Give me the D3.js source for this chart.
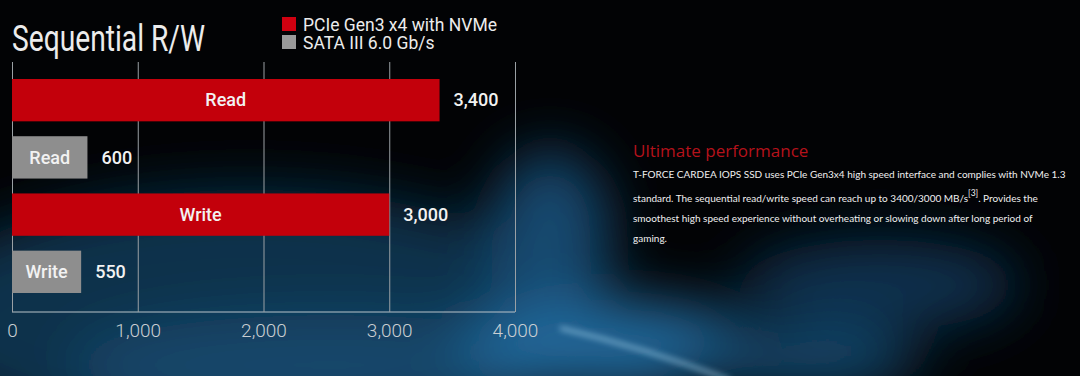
<!DOCTYPE html>
<html>
<head>
    <meta charset="utf-8">
    <title>Sequential R/W</title>
    <script src="https://d3js.org/d3.v7.min.js"></script>
    <style>
        body { margin: 0; background: #000; }
        svg { display: block; }
    </style>
</head>
<body>
<script>
    // chart data
    let barLabels = ["Read", "Read", "Write", "Write"];
    let barValues = [3400, 600, 3000, 550];
    let barSeries = ["nvme", "sata", "nvme", "sata"];
    let seriesNames = ["PCIe Gen3 x4 with NVMe", "SATA III 6.0 Gb/s"];
    let xTicks = [0, 1000, 2000, 3000, 4000];
    let paragraph = [
        "T-FORCE CARDEA IOPS SSD uses PCIe Gen3x4 high speed interface and complies with NVMe 1.3",
        "standard. The sequential read/write speed can reach up to 3400/3000 MB/s",
        "smoothest high speed experience without overheating or slowing down after long period of",
        "gaming."
    ];

    let W = 1080, H = 376;
    let colors = {nvme: "#c3000b", sata: "#8e8e8e"};

    let svg = d3.select("body").append("svg").attr("width", W).attr("height", H);
    let defs = svg.append("defs");

    // background glow
    let blur = defs.append("filter").attr("id", "blur").attr("x", "-50%").attr("y", "-50%")
        .attr("width", "200%").attr("height", "200%");
    blur.append("feGaussianBlur").attr("stdDeviation", 28);
    let blur2 = defs.append("filter").attr("id", "blur2").attr("x", "-50%").attr("y", "-50%")
        .attr("width", "200%").attr("height", "200%");
    blur2.append("feGaussianBlur").attr("stdDeviation", 3);

    svg.append("rect").attr("width", W).attr("height", H).attr("fill", "#020305");
    let glow = svg.append("g").attr("filter", "url(#blur)");
    glow.append("ellipse").attr("cx", 250).attr("cy", 320).attr("rx", 340).attr("ry", 130).attr("fill", "#0e304b");
    glow.append("ellipse").attr("cx", 330).attr("cy", 365).attr("rx", 260).attr("ry", 50).attr("fill", "#14476b");
    glow.append("ellipse").attr("cx", 550).attr("cy", 240).attr("rx", 60).attr("ry", 90).attr("fill", "#164a70");
    glow.append("ellipse").attr("cx", 610).attr("cy", 345).attr("rx", 150).attr("ry", 45).attr("fill", "#23689a");
    glow.append("ellipse").attr("cx", 880).attr("cy", 285).attr("rx", 140).attr("ry", 45).attr("fill", "#0f3350");
    glow.append("ellipse").attr("cx", 800).attr("cy", 360).attr("rx", 120).attr("ry", 30).attr("fill", "#154a6e");
    svg.append("path").attr("d", "M560,328 Q645,348 730,380").attr("stroke", "#a9d8f2")
        .attr("stroke-width", 3).attr("fill", "none").attr("opacity", 0.8).attr("filter", "url(#blur2)");

    // scales
    let x = d3.scaleLinear().domain([0, 4000]).range([12, 515]);
    let y = d3.scaleBand().domain(d3.range(barValues.length)).range([79, 293]).paddingInner(0.26);

    // grid + axis
    let axis = svg.append("g").attr("transform", "translate(0,312)")
        .call(d3.axisBottom(x).tickValues(xTicks).tickSize(-250).tickPadding(8).tickFormat(d3.format(",")));
    axis.select(".domain").attr("stroke", "#b9c3c9").attr("d", "M12,0H515");
    axis.selectAll(".tick line").attr("stroke", "#9aa0a4").attr("stroke-width", 1);
    axis.selectAll(".tick text").attr("fill", "#c9ced2").attr("font-family", "Roboto")
        .attr("font-weight", 300).attr("font-size", 19).attr("dy", "0.9em");

    // bars
    let bars = svg.append("g").selectAll("g").data(barValues).enter().append("g");
    bars.append("rect")
        .attr("x", x(0))
        .attr("y", (d, i) => y(i))
        .attr("width", d => x(d) - x(0))
        .attr("height", y.bandwidth())
        .attr("fill", (d, i) => colors[barSeries[i]]);
    bars.append("text")
        .attr("x", d => (x(0) + x(d)) / 2)
        .attr("y", (d, i) => y(i) + y.bandwidth() / 2)
        .attr("dy", "0.35em").attr("text-anchor", "middle")
        .attr("fill", "#f2f2f2").attr("font-family", "Roboto").attr("font-weight", 500).attr("font-size", 18)
        .text((d, i) => barLabels[i]);
    bars.append("text")
        .attr("x", d => x(d) + 14)
        .attr("y", (d, i) => y(i) + y.bandwidth() / 2)
        .attr("dy", "0.35em")
        .attr("fill", "#f2f2f2").attr("font-family", "Roboto").attr("font-weight", 500).attr("font-size", 18)
        .text(d => d3.format(",")(d));

    // title
    svg.append("text").attr("x", 12).attr("y", 51)
        .attr("fill", "#ececec").attr("font-family", "Roboto").attr("font-size", 36)
        .attr("textLength", 193).attr("lengthAdjust", "spacingAndGlyphs")
        .text("Sequential R/W");

    // legend
    let legend = svg.append("g").selectAll("g").data(seriesNames).enter().append("g")
        .attr("transform", (d, i) => "translate(282," + (17 + i * 18) + ")");
    legend.append("rect").attr("width", 14).attr("height", 14)
        .attr("fill", (d, i) => i === 0 ? "#d00010" : "#9a9a9a");
    legend.append("text").attr("x", 21).attr("y", 14)
        .attr("fill", "#ececec").attr("font-family", "Roboto").attr("font-size", 17.5)
        .text(d => d);

    // side text
    svg.append("text").attr("x", 633).attr("y", 157)
        .attr("fill", "#b5121b").attr("font-family", "Open Sans").attr("font-size", 17)
        .text("Ultimate performance");
    let para = svg.append("g").attr("font-family", "Lato").attr("font-size", 10).attr("fill", "#f0f0f0");
    let lineY = [178, 202, 222, 242];
    paragraph.forEach((t, i) => {
        let tx = para.append("text").attr("x", 633).attr("y", lineY[i]);
        tx.append("tspan").text(t);
        if (i === 1) {
            tx.append("tspan").attr("dy", -6).attr("font-size", 8.5).text("[3]");
            tx.append("tspan").attr("dy", 6).text(". Provides the");
        }
    });
</script>
</body>
</html>
